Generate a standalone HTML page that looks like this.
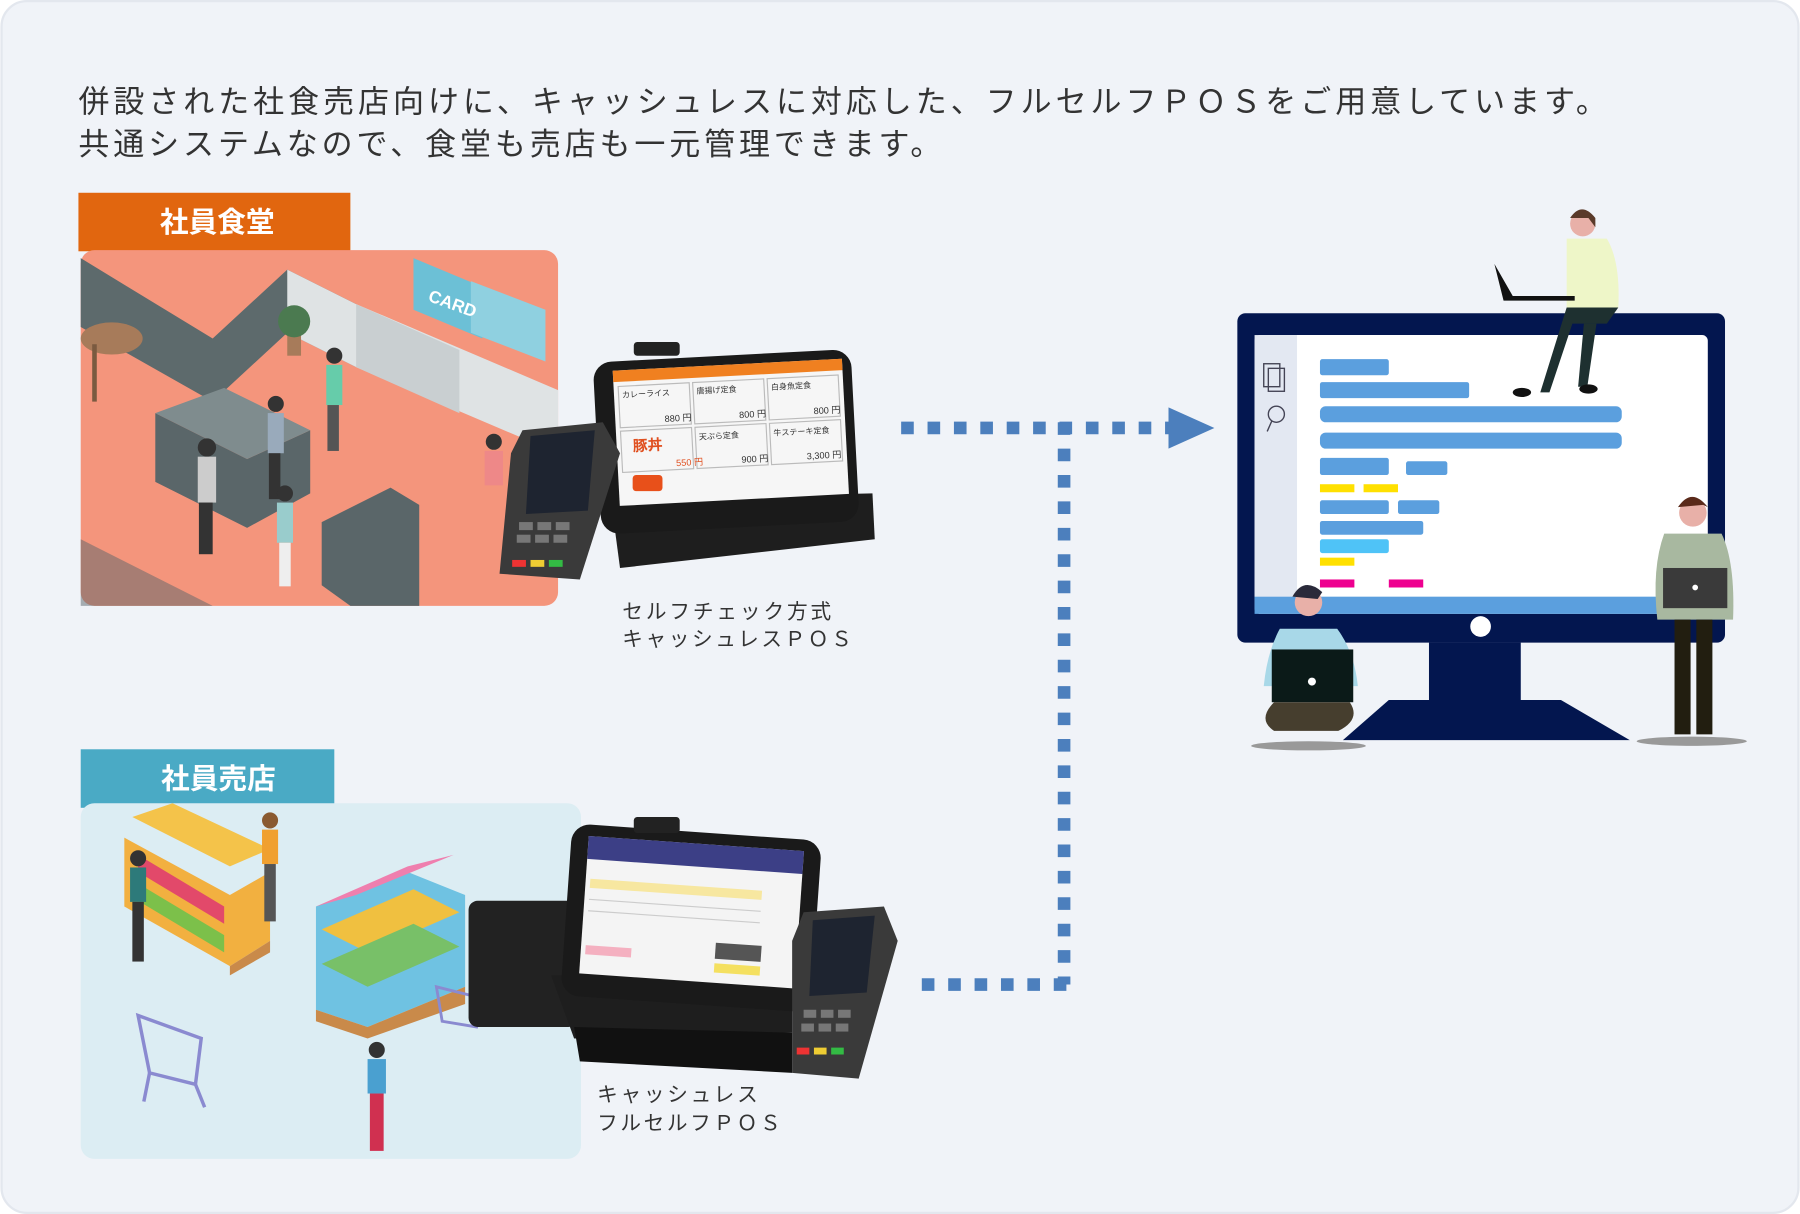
<!DOCTYPE html>
<html><head><meta charset="utf-8">
<style>
html,body{margin:0;padding:0;background:#fff;}
svg{display:block;}
text{font-family:"Liberation Sans","Noto Sans CJK JP",sans-serif;}
</style></head>
<body>
<svg width="1800" height="1214" viewBox="0 0 1568 1058" xmlns="http://www.w3.org/2000/svg">
<rect x="1" y="1" width="1566" height="1056" rx="22" fill="#f0f3f8" stroke="#e3e7ee" stroke-width="2"/>
<!-- heading -->
<text x="68" y="98" font-size="27" fill="#333" textLength="1332" lengthAdjust="spacing">併設された社食売店向けに、キャッシュレスに対応した、フルセルフＰＯＳをご用意しています。</text>
<text x="68" y="135" font-size="27" fill="#333" textLength="752" lengthAdjust="spacing">共通システムなので、食堂も売店も一元管理できます。</text>

<!-- cafeteria -->
<rect x="68" y="168" width="237" height="51" fill="#e1660f"/>
<text x="189" y="202" font-size="25" font-weight="bold" fill="#fff" text-anchor="middle">社員食堂</text>
<rect x="70" y="218" width="416" height="310" rx="12" fill="#f4957c"/>
<g>
<polygon points="70,225 185,295 250,235 310,265 310,320 250,290 185,350 70,285" fill="#5d6a6c"/>
<polygon points="250,235 310,265 486,340 486,395 310,320 250,290" fill="#dfe3e4"/>
<polygon points="310,265 400,305 400,360 310,320" fill="#c9cfd1"/>
<polygon points="135,360 215,400 270,375 270,430 215,460 135,420" fill="#5a6669"/>
<polygon points="135,360 215,400 270,375 195,338" fill="#7f8c8e"/>
<polygon points="280,455 340,425 365,440 365,528 305,528 280,510" fill="#5a6669"/>
<polygon points="70,470 185,528 70,528" fill="#5a6669" opacity="0.5"/>
<ellipse cx="97" cy="295" rx="27" ry="14" fill="#a77b5a"/>
<rect x="80" y="300" width="4" height="50" fill="#7a5a40"/>
<polygon points="360,225 420,250 420,295 360,270" fill="#6cc0d6"/>
<polygon points="410,245 475,270 475,315 410,290" fill="#8fd0e0"/>
<text x="372" y="262" font-size="15" font-weight="bold" fill="#fff" transform="rotate(20 372 262)">CARD</text>
<circle cx="180" cy="390" r="8" fill="#333"/><rect x="172" y="398" width="16" height="40" fill="#ccc"/><rect x="173" y="438" width="12" height="45" fill="#333"/>
<circle cx="240" cy="352" r="7" fill="#333"/><rect x="233" y="360" width="14" height="35" fill="#9ab"/><rect x="234" y="395" width="10" height="40" fill="#333"/>
<circle cx="291" cy="310" r="7" fill="#333"/><rect x="284" y="318" width="14" height="35" fill="#6ca"/><rect x="285" y="353" width="10" height="40" fill="#555"/>
<circle cx="248" cy="430" r="7" fill="#333"/><rect x="241" y="438" width="14" height="35" fill="#9cc"/><rect x="243" y="473" width="10" height="38" fill="#eee"/>
<circle cx="430" cy="385" r="7" fill="#333"/><rect x="422" y="393" width="16" height="30" fill="#e88"/>
<rect x="250" y="290" width="12" height="20" fill="#a77b5a"/><circle cx="256" cy="280" r="14" fill="#4b7a50"/>
</g>

<!-- POS 1 -->
<g>
<polygon points="532,435 760,430 762,470 540,495" fill="#1e1e1e"/>
<rect x="520" y="310" width="225" height="150" rx="16" fill="#1a1a1a" transform="rotate(-3 632 385)"/>
<rect x="537" y="318" width="200" height="118" fill="#f6f6f6" transform="rotate(-3 632 385)"/>
<rect x="537" y="318" width="200" height="10" fill="#f08020" transform="rotate(-3 632 385)"/>
<g transform="rotate(-3 632 385)" fill="none" stroke="#bbb" stroke-width="1">
<rect x="541" y="332" width="62" height="36"/><rect x="606" y="332" width="62" height="36"/><rect x="671" y="332" width="62" height="36"/>
<rect x="541" y="371" width="62" height="36"/><rect x="606" y="371" width="62" height="36"/><rect x="671" y="371" width="62" height="36"/>
</g>
<g transform="rotate(-3 632 385)" font-size="7" fill="#333">
<text x="544" y="342">カレーライス</text><text x="609" y="342">唐揚げ定食</text><text x="674" y="342">白身魚定食</text>
<text x="580" y="365" font-size="8">880 円</text><text x="645" y="365" font-size="8">800 円</text><text x="710" y="365" font-size="8">800 円</text>
<text x="551" y="389" font-size="13" font-weight="bold" fill="#e05020">豚丼</text><text x="609" y="382">天ぷら定食</text><text x="674" y="382">牛ステーキ定食</text>
<text x="588" y="404" font-size="8" fill="#e05020">550 円</text><text x="645" y="404" font-size="8">900 円</text><text x="702" y="404" font-size="8">3,300 円</text>
</g>
<rect x="551" y="414" width="26" height="14" rx="3" fill="#e8501a"/>
<rect x="552" y="298" width="40" height="12" rx="3" fill="#222"/>
<polygon points="455,375 525,368 540,395 505,505 435,500 445,395" fill="#3a3a3a"/>
<polygon points="462,380 518,375 512,445 458,448" fill="#1e2430"/>
<g fill="#777"><rect x="452" y="455" width="12" height="7"/><rect x="468" y="455" width="12" height="7"/><rect x="484" y="455" width="12" height="7"/><rect x="450" y="466" width="12" height="7"/><rect x="466" y="466" width="12" height="7"/><rect x="482" y="466" width="12" height="7"/></g>
<rect x="446" y="488" width="12" height="6" fill="#e33"/><rect x="462" y="488" width="12" height="6" fill="#ec3"/><rect x="478" y="488" width="12" height="6" fill="#3b4"/>
</g>
<text x="542" y="539" font-size="18" fill="#333" textLength="182" lengthAdjust="spacing">セルフチェック方式</text>
<text x="542" y="563" font-size="18" fill="#333" textLength="200" lengthAdjust="spacing">キャッシュレスＰＯＳ</text>

<!-- shop -->
<rect x="70" y="653" width="221" height="51" fill="#4aaac5"/>
<text x="190" y="687" font-size="25" font-weight="bold" fill="#fff" text-anchor="middle">社員売店</text>
<rect x="70" y="700" width="436" height="310" rx="12" fill="#dcedf3"/>
<g>
<polygon points="108,730 200,780 235,760 235,820 200,842 108,790" fill="#f2b040"/>
<polygon points="115,712 200,755 235,740 150,700" fill="#f4c34a"/>
<polygon points="120,745 195,790 195,805 120,760" fill="#e2496a"/>
<polygon points="120,770 195,815 195,830 120,785" fill="#7cc04a"/>
<polygon points="200,842 235,820 235,830 200,850" fill="#c98a4a"/>
<polygon points="275,790 355,760 405,780 405,860 320,895 275,880" fill="#6fc2e2"/>
<polygon points="275,790 355,755 395,745 310,780" fill="#ef7fae"/>
<polygon points="280,810 360,775 400,795 320,830" fill="#f0c040"/>
<polygon points="280,840 360,805 400,825 320,860" fill="#78c068"/>
<polygon points="275,880 320,895 405,860 405,875 320,905 275,890" fill="#c98a4a"/>
<circle cx="120" cy="748" r="7" fill="#333"/><rect x="113" y="756" width="14" height="30" fill="#2d7a7a"/><rect x="115" y="786" width="10" height="52" fill="#333"/>
<circle cx="235" cy="715" r="7" fill="#8a5a30"/><rect x="228" y="723" width="14" height="30" fill="#f0a030"/><rect x="230" y="753" width="10" height="50" fill="#555"/>
<circle cx="328" cy="915" r="7" fill="#333"/><rect x="320" y="923" width="16" height="30" fill="#4aa0d0"/><rect x="322" y="953" width="12" height="50" fill="#d03050"/>
<circle cx="436" cy="795" r="7" fill="#333"/><rect x="428" y="803" width="16" height="30" fill="#e0a060"/><polygon points="426,833 448,833 452,875 422,875" fill="#3aa050"/>
<g fill="none" stroke="#8a8ad0" stroke-width="3"><polygon points="120,885 175,905 170,945 130,935"/><line x1="130" y1="935" x2="125" y2="960"/><line x1="170" y1="945" x2="178" y2="965"/></g>
<g fill="none" stroke="#8a8ad0" stroke-width="2.5"><polygon points="380,860 420,870 415,895 385,890"/></g>
</g>

<!-- POS 2 -->
<g>
<rect x="408" y="785" width="95" height="110" rx="8" fill="#222"/>
<polygon points="480,850 690,850 690,900 500,905" fill="#1e1e1e"/>
<polygon points="500,895 690,900 690,935 505,925" fill="#111"/>
<rect x="493" y="725" width="218" height="150" rx="16" fill="#1a1a1a" transform="rotate(4 602 800)"/>
<rect x="508" y="735" width="188" height="120" fill="#f4f4f4" transform="rotate(4 602 800)"/>
<rect x="508" y="735" width="188" height="20" fill="#3c3f86" transform="rotate(4 602 800)"/>
<g transform="rotate(4 602 800)"><rect x="512" y="772" width="150" height="8" fill="#f7e7a0"/><line x1="512" y1="790" x2="662" y2="790" stroke="#ccc"/><line x1="512" y1="800" x2="662" y2="800" stroke="#ccc"/><rect x="512" y="830" width="40" height="8" fill="#f4b0c0"/><rect x="625" y="820" width="40" height="14" fill="#555"/><rect x="625" y="838" width="40" height="8" fill="#f4e060"/></g>
<rect x="552" y="712" width="40" height="14" rx="3" fill="#222"/>
<polygon points="700,795 770,790 782,820 748,940 690,935 690,820" fill="#3a3a3a"/>
<polygon points="708,802 762,798 755,865 705,868" fill="#1e2430"/>
<g fill="#777"><rect x="700" y="880" width="11" height="7"/><rect x="715" y="880" width="11" height="7"/><rect x="730" y="880" width="11" height="7"/><rect x="698" y="892" width="11" height="7"/><rect x="713" y="892" width="11" height="7"/><rect x="728" y="892" width="11" height="7"/></g>
<rect x="694" y="913" width="11" height="6" fill="#e33"/><rect x="709" y="913" width="11" height="6" fill="#ec3"/><rect x="724" y="913" width="11" height="6" fill="#3b4"/>
</g>
<text x="520" y="960" font-size="18" fill="#333" textLength="140" lengthAdjust="spacing">キャッシュレス</text>
<text x="520" y="985" font-size="18" fill="#333" textLength="160" lengthAdjust="spacing">フルセルフＰＯＳ</text>

<!-- connectors -->
<g stroke="#4c7fbd" stroke-width="11" fill="none" stroke-dasharray="11 12">
<line x1="785" y1="373" x2="1020" y2="373"/>
<line x1="927" y1="368" x2="927" y2="858"/>
<line x1="803" y1="858" x2="932" y2="858"/>
</g>
<polygon points="1018,355 1058,373 1018,391" fill="#4c7fbd"/>

<!-- monitor -->
<rect x="1078" y="273" width="425" height="287" rx="7" fill="#03164f"/>
<rect x="1093" y="292" width="395" height="243" rx="5" fill="#ffffff"/>
<rect x="1093" y="292" width="37" height="228" fill="#e3e8f2"/>
<rect x="1093" y="520" width="395" height="15" fill="#5b9fde"/>
<rect x="1101" y="317" width="14" height="20" fill="none" stroke="#445" stroke-width="1.2"/><rect x="1105" y="321" width="14" height="20" fill="none" stroke="#445" stroke-width="1.2"/>
<circle cx="1112" cy="361" r="7" fill="none" stroke="#445" stroke-width="1.2"/><line x1="1108" y1="367" x2="1104" y2="376" stroke="#445" stroke-width="1.2"/>
<circle cx="1290" cy="546" r="9" fill="#fff"/>
<rect x="1245" y="560" width="80" height="52" fill="#03164f"/>
<polygon points="1210,610 1360,610 1420,645 1170,645" fill="#03164f"/>
<g fill="#5b9fde">
<rect x="1150" y="313" width="60" height="14" rx="2"/>
<rect x="1150" y="333" width="130" height="14" rx="2"/>
<rect x="1150" y="354" width="263" height="14" rx="5"/>
<rect x="1150" y="377" width="263" height="14" rx="5"/>
<rect x="1150" y="399" width="60" height="15" rx="2"/><rect x="1225" y="402" width="36" height="12" rx="2"/>
<rect x="1150" y="436" width="60" height="12" rx="2"/><rect x="1218" y="436" width="36" height="12" rx="2"/>
<rect x="1150" y="454" width="90" height="12" rx="2"/>
</g>
<rect x="1150" y="470" width="60" height="12" rx="2" fill="#4fc3f7"/>
<g fill="#ffe000"><rect x="1150" y="422" width="30" height="7"/><rect x="1188" y="422" width="30" height="7"/><rect x="1150" y="486" width="30" height="7"/></g>
<g fill="#ee0090"><rect x="1150" y="505" width="30" height="7"/><rect x="1210" y="505" width="30" height="7"/></g>

<!-- people -->
<!-- top woman -->
<circle cx="1379" cy="195" r="11" fill="#e8b0a8"/><path d="M1368,190 q10,-15 22,0 l0,8 l-6,-8 z" fill="#5a3a2a"/>
<path d="M1365,208 l35,0 q12,20 10,60 l-45,0 z" fill="#eef6c8"/>
<polygon points="1302,230 1318,258 1372,258 1372,262 1310,262" fill="#111"/>
<path d="M1365,268 l45,0 l-10,14 l-30,0 l-20,60 l-8,0 z" fill="#1e3030"/>
<path d="M1380,282 l-5,55 l8,0 l8,-55 z" fill="#1e3030"/>
<ellipse cx="1326" cy="342" rx="8" ry="4" fill="#111"/><ellipse cx="1384" cy="339" rx="8" ry="4" fill="#111"/>
<!-- sitting man -->
<ellipse cx="1140" cy="650" rx="50" ry="4" fill="#999"/>
<circle cx="1140" cy="525" r="12" fill="#e8b0a8"/><path d="M1126,520 q10,-18 26,-4 l-4,6 z" fill="#2a2a3a"/>
<path d="M1115,548 l50,0 q15,20 18,50 l-82,0 q3,-30 14,-50 z" fill="#a8d8e8"/>
<rect x="1108" y="566" width="71" height="46" fill="#0b1a18"/><circle cx="1143" cy="594" r="3.5" fill="#fff"/>
<path d="M1110,612 l66,0 q10,15 -10,25 l-56,0 q-15,-10 0,-25 z" fill="#463e2e"/>
<!-- standing man -->
<ellipse cx="1474" cy="646" rx="48" ry="4" fill="#999"/>
<circle cx="1475" cy="447" r="12" fill="#e8b0a8"/><path d="M1462,442 q12,-18 26,0 l-4,-2 z" fill="#5a2a1a"/>
<path d="M1450,465 l50,0 q12,25 10,75 l-66,0 q-5,-45 6,-75 z" fill="#a8b8a0"/>
<rect x="1449" y="495" width="56" height="35" fill="#3a3a3a"/><circle cx="1477" cy="512" r="2.5" fill="#fff"/>
<rect x="1459" y="540" width="14" height="100" fill="#221e10"/><rect x="1478" y="540" width="14" height="100" fill="#221e10"/>
</svg>
</body></html>
